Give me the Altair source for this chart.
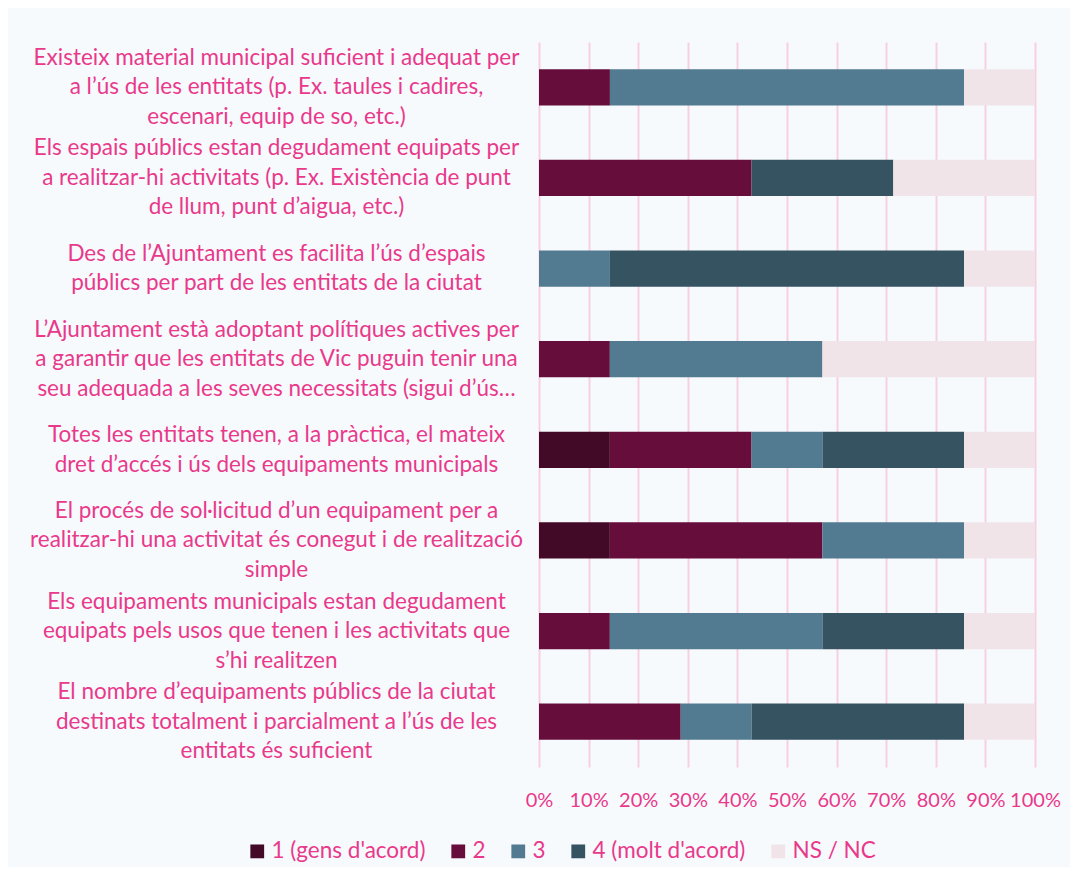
import altair as alt
import pandas as pd

categories = [
    "Existeix material municipal suficient i adequat per|a l’ús de les entitats (p. Ex. taules i cadires,|escenari, equip de so, etc.)",
    "Els espais públics estan degudament equipats per|a realitzar-hi activitats (p. Ex. Existència de punt|de llum, punt d’aigua, etc.)",
    "Des de l’Ajuntament es facilita l’ús d’espais|públics per part de les entitats de la ciutat",
    "L’Ajuntament està adoptant polítiques actives per|a garantir que les entitats de Vic puguin tenir una|seu adequada a les seves necessitats (sigui d’ús…",
    "Totes les entitats tenen, a la pràctica, el mateix|dret d’accés i ús dels equipaments municipals",
    "El procés de sol·licitud d’un equipament per a|realitzar-hi una activitat és conegut i de realització|simple",
    "Els equipaments municipals estan degudament|equipats pels usos que tenen i les activitats que|s’hi realitzen",
    "El nombre d’equipaments públics de la ciutat|destinats totalment i parcialment a l’ús de les|entitats és suficient",
]
series = ["1 (gens d'acord)", "2", "3", "4 (molt d'acord)", "NS / NC"]
colors = ["#420a27", "#660d3c", "#527b91", "#355361", "#f0e4e8"]

v1 = [0, 0, 0, 0, 14.3, 14.3, 0, 0]
v2 = [14.3, 42.9, 0, 14.3, 28.6, 42.9, 14.3, 28.6]
v3 = [71.4, 0, 14.3, 42.9, 14.3, 28.6, 42.9, 14.3]
v4 = [0, 28.6, 71.4, 0, 28.6, 0, 28.6, 42.9]
vns = [14.3, 28.6, 14.3, 42.9, 14.3, 14.3, 14.3, 14.3]

rows = []
for s_i, (name, vals) in enumerate(zip(series, [v1, v2, v3, v4, vns])):
    for c, v in zip(categories, vals):
        if v > 0:
            rows.append({"cat": c, "series": name, "order": s_i, "value": v})
df = pd.DataFrame(rows)

pink = "#e8398b"
grid_pink = "#f8cfe1"
font = "Lato"
lh = 29.5

chart = alt.Chart(df).mark_bar().encode(
    y=alt.Y("cat:N", sort=categories, title=None,
            scale=alt.Scale(paddingInner=0.6, paddingOuter=0.3),
            axis=alt.Axis(labelExpr="split(datum.label, '|')", labelAlign="center",
                          labelPadding=263, labelLimit=0, labelLineHeight=lh,
                          labelOffset={"condition": {"test": "length(split(datum.label, '|')) > 2",
                                                     "value": -lh},
                                       "value": -lh / 2},
                          labelFontSize=22.5, labelColor=pink, labelFont=font,
                          ticks=False, domain=False, grid=False)),
    x=alt.X("value:Q", stack="normalize", title=None,
            scale=alt.Scale(domain=[0, 1], nice=False),
            axis=alt.Axis(values=[i / 10 for i in range(11)], format=".0%",
                          labelFontSize=20, labelColor=pink, labelFont=font,
                          labelOverlap=False, labelFlush=False,
                          labelPadding=23, ticks=False, domain=False,
                          grid=True, gridColor=grid_pink, gridWidth=2)),
    color=alt.Color("series:N", sort=series,
                    scale=alt.Scale(domain=series, range=colors),
                    legend=alt.Legend(orient="none", legendX=-293, legendY=798,
                                      direction="horizontal", columns=5, title=None,
                                      symbolType="square", symbolSize=190,
                                      symbolStrokeWidth=0, labelFontSize=22.5,
                                      labelColor=pink, labelFont=font,
                                      columnPadding=21, labelOffset=3)),
    order=alt.Order("order:Q"),
).properties(
    width=496, height=725,
    background="#f7fafd",
    padding={"left": 531, "top": 34, "right": 35, "bottom": 100},
    autosize=alt.AutoSizeParams(type="none"),
).configure_view(stroke=None)

chart.save("out.html", embed_options={"renderer": "svg", "actions": False})
